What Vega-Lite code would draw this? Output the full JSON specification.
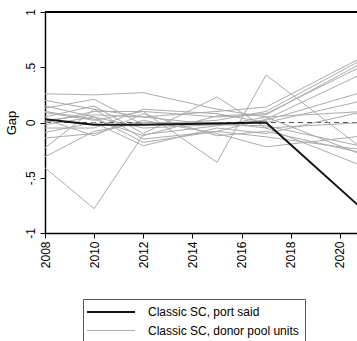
{
  "$schema": "https://vega.github.io/schema/vega-lite/v6.json",
  "autosize": "none",
  "padding": {"left": 45, "top": 12, "right": 0, "bottom": 108},
  "width": 312,
  "height": 221,
  "background": "white",
  "config": {
    "view": {"stroke": null},
    "font": "Liberation Sans",
    "axis": {"labelFont": "Liberation Sans", "titleFont": "Liberation Sans", "domainColor": "#000", "tickColor": "#000", "labelColor": "#000", "titleColor": "#000", "grid": false}
  },
  "data": {
    "values": [
      {"series": "d1", "type": "Classic SC, donor pool units", "year": 2008, "gap": 0.26},
      {"series": "d1", "type": "Classic SC, donor pool units", "year": 2010, "gap": 0.25},
      {"series": "d1", "type": "Classic SC, donor pool units", "year": 2012, "gap": 0.27},
      {"series": "d1", "type": "Classic SC, donor pool units", "year": 2015, "gap": 0.12},
      {"series": "d1", "type": "Classic SC, donor pool units", "year": 2017, "gap": 0.05},
      {"series": "d1", "type": "Classic SC, donor pool units", "year": 2021, "gap": -0.3},
      {"series": "d2", "type": "Classic SC, donor pool units", "year": 2008, "gap": 0.2},
      {"series": "d2", "type": "Classic SC, donor pool units", "year": 2010, "gap": 0.12},
      {"series": "d2", "type": "Classic SC, donor pool units", "year": 2012, "gap": 0.05},
      {"series": "d2", "type": "Classic SC, donor pool units", "year": 2015, "gap": 0.1},
      {"series": "d2", "type": "Classic SC, donor pool units", "year": 2017, "gap": 0.14},
      {"series": "d2", "type": "Classic SC, donor pool units", "year": 2021, "gap": 0.6},
      {"series": "d3", "type": "Classic SC, donor pool units", "year": 2008, "gap": 0.13},
      {"series": "d3", "type": "Classic SC, donor pool units", "year": 2010, "gap": 0.21},
      {"series": "d3", "type": "Classic SC, donor pool units", "year": 2012, "gap": -0.02},
      {"series": "d3", "type": "Classic SC, donor pool units", "year": 2015, "gap": 0.02},
      {"series": "d3", "type": "Classic SC, donor pool units", "year": 2017, "gap": 0.1},
      {"series": "d3", "type": "Classic SC, donor pool units", "year": 2021, "gap": 0.58},
      {"series": "d4", "type": "Classic SC, donor pool units", "year": 2008, "gap": 0.09},
      {"series": "d4", "type": "Classic SC, donor pool units", "year": 2010, "gap": 0.02},
      {"series": "d4", "type": "Classic SC, donor pool units", "year": 2012, "gap": 0.1},
      {"series": "d4", "type": "Classic SC, donor pool units", "year": 2015, "gap": 0.05},
      {"series": "d4", "type": "Classic SC, donor pool units", "year": 2017, "gap": 0.07},
      {"series": "d4", "type": "Classic SC, donor pool units", "year": 2021, "gap": 0.55},
      {"series": "d5", "type": "Classic SC, donor pool units", "year": 2008, "gap": 0.05},
      {"series": "d5", "type": "Classic SC, donor pool units", "year": 2010, "gap": 0.15},
      {"series": "d5", "type": "Classic SC, donor pool units", "year": 2012, "gap": -0.1},
      {"series": "d5", "type": "Classic SC, donor pool units", "year": 2015, "gap": 0.23},
      {"series": "d5", "type": "Classic SC, donor pool units", "year": 2017, "gap": -0.05},
      {"series": "d5", "type": "Classic SC, donor pool units", "year": 2021, "gap": -0.4},
      {"series": "d6", "type": "Classic SC, donor pool units", "year": 2008, "gap": 0.0},
      {"series": "d6", "type": "Classic SC, donor pool units", "year": 2010, "gap": 0.1},
      {"series": "d6", "type": "Classic SC, donor pool units", "year": 2012, "gap": 0.1},
      {"series": "d6", "type": "Classic SC, donor pool units", "year": 2015, "gap": -0.36},
      {"series": "d6", "type": "Classic SC, donor pool units", "year": 2017, "gap": 0.43},
      {"series": "d6", "type": "Classic SC, donor pool units", "year": 2021, "gap": -0.25},
      {"series": "d7", "type": "Classic SC, donor pool units", "year": 2008, "gap": -0.02},
      {"series": "d7", "type": "Classic SC, donor pool units", "year": 2010, "gap": 0.05},
      {"series": "d7", "type": "Classic SC, donor pool units", "year": 2012, "gap": -0.05},
      {"series": "d7", "type": "Classic SC, donor pool units", "year": 2015, "gap": -0.02},
      {"series": "d7", "type": "Classic SC, donor pool units", "year": 2017, "gap": 0.02},
      {"series": "d7", "type": "Classic SC, donor pool units", "year": 2021, "gap": 0.28},
      {"series": "d8", "type": "Classic SC, donor pool units", "year": 2008, "gap": -0.05},
      {"series": "d8", "type": "Classic SC, donor pool units", "year": 2010, "gap": -0.05},
      {"series": "d8", "type": "Classic SC, donor pool units", "year": 2012, "gap": 0.12},
      {"series": "d8", "type": "Classic SC, donor pool units", "year": 2015, "gap": 0.08},
      {"series": "d8", "type": "Classic SC, donor pool units", "year": 2017, "gap": 0.0},
      {"series": "d8", "type": "Classic SC, donor pool units", "year": 2021, "gap": 0.2},
      {"series": "d9", "type": "Classic SC, donor pool units", "year": 2008, "gap": -0.09},
      {"series": "d9", "type": "Classic SC, donor pool units", "year": 2010, "gap": 0.0},
      {"series": "d9", "type": "Classic SC, donor pool units", "year": 2012, "gap": -0.21},
      {"series": "d9", "type": "Classic SC, donor pool units", "year": 2015, "gap": -0.05},
      {"series": "d9", "type": "Classic SC, donor pool units", "year": 2017, "gap": -0.1},
      {"series": "d9", "type": "Classic SC, donor pool units", "year": 2021, "gap": 0.1},
      {"series": "d10", "type": "Classic SC, donor pool units", "year": 2008, "gap": -0.14},
      {"series": "d10", "type": "Classic SC, donor pool units", "year": 2010, "gap": -0.1},
      {"series": "d10", "type": "Classic SC, donor pool units", "year": 2012, "gap": 0.02},
      {"series": "d10", "type": "Classic SC, donor pool units", "year": 2015, "gap": -0.1},
      {"series": "d10", "type": "Classic SC, donor pool units", "year": 2017, "gap": -0.22},
      {"series": "d10", "type": "Classic SC, donor pool units", "year": 2021, "gap": -0.12},
      {"series": "d11", "type": "Classic SC, donor pool units", "year": 2008, "gap": -0.23},
      {"series": "d11", "type": "Classic SC, donor pool units", "year": 2010, "gap": 0.12},
      {"series": "d11", "type": "Classic SC, donor pool units", "year": 2012, "gap": -0.15},
      {"series": "d11", "type": "Classic SC, donor pool units", "year": 2015, "gap": -0.08},
      {"series": "d11", "type": "Classic SC, donor pool units", "year": 2017, "gap": -0.13},
      {"series": "d11", "type": "Classic SC, donor pool units", "year": 2021, "gap": -0.25},
      {"series": "d12", "type": "Classic SC, donor pool units", "year": 2008, "gap": -0.31},
      {"series": "d12", "type": "Classic SC, donor pool units", "year": 2010, "gap": -0.08},
      {"series": "d12", "type": "Classic SC, donor pool units", "year": 2012, "gap": 0.0},
      {"series": "d12", "type": "Classic SC, donor pool units", "year": 2015, "gap": 0.0},
      {"series": "d12", "type": "Classic SC, donor pool units", "year": 2017, "gap": -0.05},
      {"series": "d12", "type": "Classic SC, donor pool units", "year": 2021, "gap": 0.0},
      {"series": "d13", "type": "Classic SC, donor pool units", "year": 2008, "gap": -0.41},
      {"series": "d13", "type": "Classic SC, donor pool units", "year": 2010, "gap": -0.78},
      {"series": "d13", "type": "Classic SC, donor pool units", "year": 2012, "gap": -0.11},
      {"series": "d13", "type": "Classic SC, donor pool units", "year": 2015, "gap": -0.03},
      {"series": "d13", "type": "Classic SC, donor pool units", "year": 2017, "gap": 0.05},
      {"series": "d13", "type": "Classic SC, donor pool units", "year": 2021, "gap": 0.1},
      {"series": "d14", "type": "Classic SC, donor pool units", "year": 2008, "gap": 0.03},
      {"series": "d14", "type": "Classic SC, donor pool units", "year": 2010, "gap": -0.12},
      {"series": "d14", "type": "Classic SC, donor pool units", "year": 2012, "gap": 0.08},
      {"series": "d14", "type": "Classic SC, donor pool units", "year": 2015, "gap": -0.12},
      {"series": "d14", "type": "Classic SC, donor pool units", "year": 2017, "gap": -0.08},
      {"series": "d14", "type": "Classic SC, donor pool units", "year": 2021, "gap": -0.28},
      {"series": "d15", "type": "Classic SC, donor pool units", "year": 2008, "gap": 0.1},
      {"series": "d15", "type": "Classic SC, donor pool units", "year": 2010, "gap": 0.03},
      {"series": "d15", "type": "Classic SC, donor pool units", "year": 2012, "gap": -0.12},
      {"series": "d15", "type": "Classic SC, donor pool units", "year": 2015, "gap": 0.06},
      {"series": "d15", "type": "Classic SC, donor pool units", "year": 2017, "gap": 0.08},
      {"series": "d15", "type": "Classic SC, donor pool units", "year": 2021, "gap": 0.52},
      {"series": "d16", "type": "Classic SC, donor pool units", "year": 2008, "gap": 0.02},
      {"series": "d16", "type": "Classic SC, donor pool units", "year": 2010, "gap": 0.07},
      {"series": "d16", "type": "Classic SC, donor pool units", "year": 2012, "gap": 0.05},
      {"series": "d16", "type": "Classic SC, donor pool units", "year": 2015, "gap": -0.02},
      {"series": "d16", "type": "Classic SC, donor pool units", "year": 2017, "gap": -0.03},
      {"series": "d16", "type": "Classic SC, donor pool units", "year": 2021, "gap": -0.22},
      {"series": "d17", "type": "Classic SC, donor pool units", "year": 2008, "gap": 0.15},
      {"series": "d17", "type": "Classic SC, donor pool units", "year": 2010, "gap": 0.05},
      {"series": "d17", "type": "Classic SC, donor pool units", "year": 2012, "gap": -0.18},
      {"series": "d17", "type": "Classic SC, donor pool units", "year": 2015, "gap": -0.08},
      {"series": "d17", "type": "Classic SC, donor pool units", "year": 2017, "gap": 0.03},
      {"series": "d17", "type": "Classic SC, donor pool units", "year": 2021, "gap": 0.45},
      {"series": "treated", "type": "Classic SC, port said", "year": 2008, "gap": 0.03},
      {"series": "treated", "type": "Classic SC, port said", "year": 2010, "gap": -0.02},
      {"series": "treated", "type": "Classic SC, port said", "year": 2012, "gap": -0.02},
      {"series": "treated", "type": "Classic SC, port said", "year": 2015, "gap": -0.01},
      {"series": "treated", "type": "Classic SC, port said", "year": 2017, "gap": 0.0},
      {"series": "treated", "type": "Classic SC, port said", "year": 2021, "gap": -0.8}
    ]
  },
  "encoding": {
    "x": {
      "field": "year", "type": "quantitative",
      "scale": {"domain": [2008, 2020.7], "nice": false, "zero": false},
      "axis": {
        "title": null, "values": [2008, 2010, 2012, 2014, 2016, 2018, 2020],
        "format": "d", "labelAngle": 270, "labelAlign": "right", "labelBaseline": "middle",
        "labelFontSize": 12, "labelPadding": 3, "tickSize": 5, "domainWidth": 1.5, "tickWidth": 1, "labelFlush": false
      }
    },
    "y": {
      "field": "gap", "type": "quantitative",
      "scale": {"domain": [-1, 1], "nice": false},
      "axis": {
        "title": "Gap", "titleFontSize": 13, "titleFontWeight": "normal", "titlePadding": 6,
        "values": [-1, -0.5, 0, 0.5, 1],
        "labelExpr": "datum.value == 1 ? '1' : datum.value == 0.5 ? '.5' : datum.value == 0 ? '0' : datum.value == -0.5 ? '-.5' : '-1'",
        "labelAngle": 270, "labelAlign": "center", "labelBaseline": "bottom",
        "labelFontSize": 12, "labelPadding": 3, "tickSize": 5, "domainWidth": 1.5, "tickWidth": 1, "labelFlush": false
      }
    }
  },
  "layer": [
    {
      "mark": {"type": "rule", "color": "#555", "strokeDash": [5, 4], "strokeWidth": 1},
      "encoding": {"y": {"datum": 0}, "x": null}
    },
    {
      "transform": [{"filter": "datum.type == 'Classic SC, donor pool units'"}],
      "mark": {"type": "line", "clip": true},
      "encoding": {
        "detail": {"field": "series"},
        "color": {"field": "type", "type": "nominal",
          "scale": {"domain": ["Classic SC, port said", "Classic SC, donor pool units"], "range": ["#111111", "#ababab"]},
          "legend": {
            "title": null, "orient": "none", "legendX": 38, "legendY": 287, "direction": "vertical",
            "strokeColor": "#555", "padding": 6, "symbolType": "M-4,0H4", "symbolSize": 144, "symbolOffset": 15,
            "labelFontSize": 12, "labelFont": "Liberation Sans", "labelColor": "#000", "labelOffset": 30, "rowPadding": 6, "labelLimit": 300
          }
        },
        "strokeWidth": {"field": "type", "type": "nominal",
          "scale": {"domain": ["Classic SC, port said", "Classic SC, donor pool units"], "range": [2, 1]},
          "legend": null
        }
      }
    },
    {
      "transform": [{"filter": "datum.type == 'Classic SC, port said'"}],
      "mark": {"type": "line", "clip": true},
      "encoding": {
        "detail": {"field": "series"},
        "color": {"field": "type", "type": "nominal"},
        "strokeWidth": {"field": "type", "type": "nominal"}
      }
    },
    {
      "mark": {"type": "rule", "color": "#000", "strokeWidth": 1.5},
      "encoding": {"y": {"datum": 1}, "x": null}
    }
  ]
}
